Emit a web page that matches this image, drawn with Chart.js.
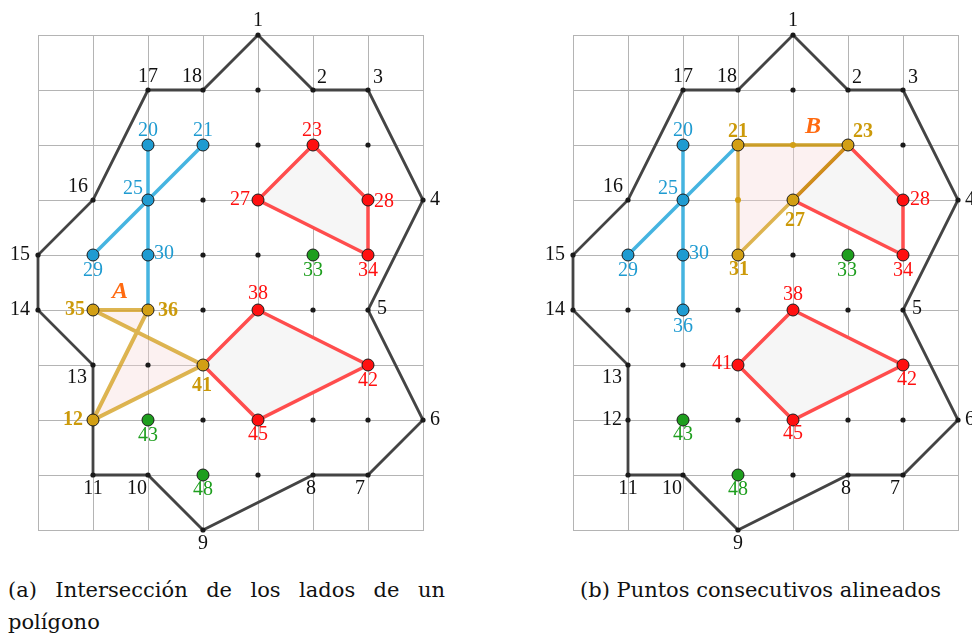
<!DOCTYPE html>
<html>
<head>
<meta charset="utf-8">
<script src="https://cdn.jsdelivr.net/npm/chart.js@4/dist/chart.umd.min.js"></script>
<style>
  body { margin: 0; background: #fff; width: 972px; height: 635px; position: relative; overflow: hidden; }
  canvas { position: absolute; top: 0; }
  #cA { left: 0; }
  #cB { left: 486px; }
  .cap { position: absolute; font-family: "DejaVu Serif", serif; font-size: 21px; line-height: 32px; color: #111; }
  #capA1 { left: 8px; top: 574px; width: 437px; text-align: justify; text-align-last: justify; white-space: nowrap; }
  #capA2 { left: 8px; top: 606px; }
  #capB { left: 580px; top: 574px; white-space: nowrap; }
</style>
</head>
<body>
<canvas id="cA" width="486" height="560"></canvas>
<canvas id="cB" width="486" height="560"></canvas>
<div class="cap" id="capA1">(a) Intersección de los lados de un</div>
<div class="cap" id="capA2">polígono</div>
<div class="cap" id="capB">(b) Puntos consecutivos alineados</div>

<script>
// ===== DATA =====
// grid coordinates of points 1..49 (index = number - 1)
const pointX = [4,5,6,7,6,7,6,5,3,2,1,1,1,0,0,1,2,3,
                4,2,3,4,5,6,2,3,4,6,1,2,3,4,5,6,1,2,3,4,5,2,3,6,2,3,4,5,6,3,4];
const pointY = [9,8,8,6,4,2,1,1,0,1,1,2,3,4,5,6,8,8,
                8,7,7,7,7,7,6,6,6,6,5,5,5,5,5,5,4,4,4,4,4,3,3,3,2,2,2,2,2,1,1];

const outline = [1,2,3,4,5,6,7,8,9,10,11,12,13,14,15,16,17,18,1];
const blueLines = [[20,25,30,36], [21,25,29]];
const redPolys = [[23,28,34,27,23], [38,42,45,41,38]];

// panel (a)
const yellowA = [35,36,12,41,35];
const dotsA = [1,2,3,4,5,6,7,8,9,10,11,13,14,15,16,17,18,19,22,24,26,31,32,37,39,40,44,46,47,49];
const blueA = [20,21,25,29,30];
const redA = [23,27,28,34,38,42,45];
const greenA = [33,43,48];
const goldA = [35,36,41,12];

// panel (b)
const yellowB1 = [21,23,27];     // top edge + upper diagonal
const yellowB2 = [27,31,21];     // lower diagonal + left edge
const yellowB = [21,23,27,31,21];
const dotsB = [1,2,3,4,5,6,7,8,9,10,11,12,13,14,15,16,17,18,19,24,32,35,37,39,40,44,46,47,49];
const goldDotsB = [22,26];
const blueB = [20,25,29,30,36];
const redB = [28,34,38,41,42,45];
const greenB = [33,43,48];
const goldB = [21,23,27,31];

// ===== STYLE =====
const FONT = '"Liberation Serif", "DejaVu Serif", serif';
const C = {
    grid: '#b4b4b4',
    outline: '#444',
    blue: '#1f9bd1', blueLine: '#45b4e0',
    red: '#ff1010', redLine: '#ff4d4d', redFill: '#f6f6f6',
    green: '#1e9e1e',
    gold: '#d29f14', goldText: '#cc9a0a', goldLine: 'rgba(212,160,32,0.78)', goldDark: 'rgba(200,150,20,0.9)',
    goldFill: 'rgba(245,215,215,0.35)',
    orange: '#ff6a10',
    black: '#111'
};

// label offsets in px [dx, dy] relative to the point
const offBlack = {
    1:[0,-14], 2:[9,-12], 3:[10,-12], 4:[12,0], 5:[14,-1], 6:[12,0], 7:[-8,14], 8:[-2,14],
    9:[0,14], 10:[-11,14], 11:[0,14], 12:[-16,0], 13:[-16,13], 14:[-18,0], 15:[-18,0],
    16:[-15,-13], 17:[0,-13], 18:[-11,-13]
};

const pts = ids => ids.map(i => ({ x: pointX[i - 1], y: pointY[i - 1] }));

function lineSet(ids, color, width, fill) {
    return {
        data: pts(ids), showLine: true, borderColor: color, borderWidth: width,
        pointRadius: 0, fill: fill ? 'shape' : false, backgroundColor: fill || 'transparent',
        clip: false, tension: 0
    };
}

function pointSet(ids, color, r) {
    return {
        data: pts(ids), showLine: false, pointRadius: r, pointBackgroundColor: color,
        pointBorderColor: '#1a1a1a', pointBorderWidth: r > 3 ? 1 : 0, clip: false
    };
}

function labels(ids, offs, color, bold) {
    return ids.map(i => ({ id: i, text: String(i), dx: offs[i][0], dy: offs[i][1], color, bold }));
}

const labelPlugin = {
    id: 'ptlabels',
    afterDatasetsDraw(chart, args, opts) {
        const { ctx, scales: { x, y } } = chart;
        ctx.save();
        ctx.textAlign = 'center';
        ctx.textBaseline = 'middle';
        opts.items.forEach(it => {
            const px = x.getPixelForValue(pointX[it.id - 1]) + it.dx;
            const py = y.getPixelForValue(pointY[it.id - 1]) + it.dy;
            ctx.fillStyle = it.color;
            ctx.font = it.font || ((it.bold ? 'bold ' : '') + '20px ' + FONT);
            ctx.fillText(it.text, px, py);
        });
        ctx.restore();
    }
};

function makeChart(canvasId, pad, datasets, items) {
    // Chart.js draws dataset 0 on top, so list back-to-front and reverse
    return new Chart(document.getElementById(canvasId), {
        type: 'line',
        data: { datasets: datasets.reverse() },
        options: {
            responsive: false, animation: false, devicePixelRatio: 1,
            layout: { padding: pad },
            plugins: { legend: { display: false }, tooltip: { enabled: false }, ptlabels: { items } },
            scales: {
                x: { type: 'linear', min: 0, max: 7, ticks: { display: false, stepSize: 1 },
                     grid: { color: C.grid, drawTicks: false }, border: { color: C.grid } },
                y: { type: 'linear', min: 0, max: 9, ticks: { display: false, stepSize: 1 },
                     grid: { color: C.grid, drawTicks: false }, border: { color: C.grid } }
            }
        },
        plugins: [labelPlugin]
    });
}

// ===== PANEL A =====
makeChart('cA', { left: 38, top: 35, right: 63, bottom: 30 }, [
    lineSet(outline, C.outline, 2.8),
    lineSet(redPolys[0], C.redLine, 3.5, C.redFill),
    lineSet(redPolys[1], C.redLine, 3.5, C.redFill),
    lineSet(blueLines[0], C.blueLine, 3.5),
    lineSet(blueLines[1], C.blueLine, 3.5),
    lineSet(yellowA, C.goldLine, 4, C.goldFill),
    pointSet(dotsA, '#1a1a1a', 2.6),
    pointSet(blueA, C.blue, 6),
    pointSet(redA, C.red, 6),
    pointSet(greenA, C.green, 6),
    pointSet(goldA, C.gold, 6)
], [
    ...labels([1,2,3,4,5,6,7,8,9,10,11,13,14,15,16,17,18], offBlack, C.black, false),
    ...labels(blueA, { 20:[0,-14], 21:[0,-14], 25:[-15,-11], 29:[0,16], 30:[16,-1] }, C.blue, false),
    ...labels(redA, { 23:[-1,-14], 27:[-18,0], 28:[16,2], 34:[0,16], 38:[0,-16], 42:[0,16], 45:[0,15] }, C.red, false),
    ...labels(greenA, { 33:[0,16], 43:[0,16], 48:[0,15] }, C.green, false),
    ...labels(goldA, { 35:[-18,0], 36:[20,1], 41:[-1,21], 12:[-20,0] }, C.goldText, true),
    { id: 35, text: 'A', dx: 27, dy: -18, color: C.orange, font: 'italic bold 24px ' + FONT }
]);

// ===== PANEL B =====
makeChart('cB', { left: 87, top: 35, right: 14, bottom: 30 }, [
    lineSet(outline, C.outline, 2.8),
    lineSet(redPolys[0], C.redLine, 3.5, C.redFill),
    lineSet(redPolys[1], C.redLine, 3.5, C.redFill),
    lineSet(blueLines[0], C.blueLine, 3.5),
    lineSet(blueLines[1], C.blueLine, 3.5),
    lineSet(yellowB, 'transparent', 0, C.goldFill),
    lineSet(yellowB2, C.goldLine, 3.5),
    lineSet(yellowB1, C.goldDark, 3.5),
    pointSet(dotsB, '#1a1a1a', 2.6),
    pointSet(goldDotsB, C.gold, 3),
    pointSet(blueB, C.blue, 6),
    pointSet(redB, C.red, 6),
    pointSet(greenB, C.green, 6),
    pointSet(goldB, C.gold, 6)
], [
    ...labels([1,2,3,4,5,6,7,8,9,10,11,12,13,14,15,16,17,18], offBlack, C.black, false),
    ...labels(blueB, { 20:[0,-14], 25:[-15,-11], 29:[0,16], 30:[16,-1], 36:[0,17] }, C.blue, false),
    ...labels(redB, { 28:[17,0], 34:[0,16], 38:[0,-15], 41:[-16,-1], 42:[4,15], 45:[0,14] }, C.red, false),
    ...labels(greenB, { 33:[-1,16], 43:[0,15], 48:[0,15] }, C.green, false),
    ...labels(goldB, { 21:[0,-13], 23:[15,-13], 27:[2,21], 31:[1,15] }, C.goldText, true),
    { id: 22, text: 'B', dx: 20, dy: -18, color: C.orange, font: 'italic bold 24px ' + FONT }
]);
</script>
</body>
</html>
